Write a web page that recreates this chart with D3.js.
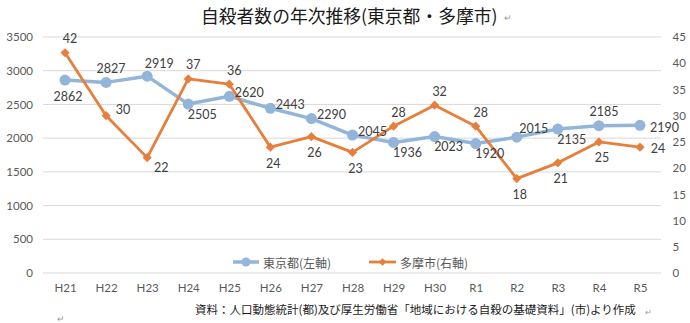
<!DOCTYPE html>
<html><head><meta charset="utf-8">
<script src="https://cdn.jsdelivr.net/npm/d3@7/dist/d3.min.js"></script>
<style>
body{margin:0;background:#fff;}
svg{display:block;}
</style></head>
<body>
<svg id="c" width="690" height="323"></svg>
<script>
const categories = ["H21","H22","H23","H24","H25","H26","H27","H28","H29","H30","R1","R2","R3","R4","R5"];
const tokyo = [2862,2827,2919,2505,2620,2443,2290,2045,1936,2023,1920,2015,2135,2185,2190];
const tama = [42,30,22,37,36,24,26,23,28,32,28,18,21,25,24];
const leftTicks = [0,500,1000,1500,2000,2500,3000,3500];
const rightTicks = [0,5,10,15,20,25,30,35,40,45];
// label placement keywords (style only)
const tokyoLabelPos = ["below","above","aboveR","belowR","right","right","right","right","belowR","belowR","belowR","aboveL","belowR","above","rightFar"];
const tamaLabelPos = ["above","right","belowR","above","above","below","below","below","above","above","above","below","below","below","rightNear"];

const svg = d3.select("#c");
const numFont = "Lato, 'Noto Sans', sans-serif";
const jpFont = "'Noto Sans CJK JP', sans-serif";
const plot = {l:44.5, r:660.5, t:37, b:273};

const x = d3.scalePoint().domain(categories).range([plot.l, plot.r]).padding(0.5);
const yL = d3.scaleLinear().domain([0,3500]).range([plot.b, plot.t]);
const yR = d3.scaleLinear().domain([0,45]).range([plot.b, plot.t]);

// gridlines
svg.append("g").selectAll("line").data(leftTicks).join("line")
  .attr("x1", plot.l-1.5).attr("x2", plot.r+0.5)
  .attr("y1", d=>yL(d)).attr("y2", d=>yL(d))
  .attr("stroke", "#D9D9D9").attr("stroke-width", 1);

// left axis
const la = svg.append("g").attr("transform", `translate(${plot.l},0)`)
  .call(d3.axisLeft(yL).tickValues(leftTicks).tickFormat(d3.format("d")).tickSize(0).tickPadding(11.5));
la.select(".domain").remove();
la.selectAll("text").attr("font-family", numFont).attr("font-size", 11.5).attr("fill", "#595959");

// right axis
const ra = svg.append("g").attr("transform", `translate(${plot.r},0)`)
  .call(d3.axisRight(yR).tickValues(rightTicks).tickFormat(d3.format("d")).tickSize(0).tickPadding(12));
ra.select(".domain").remove();
ra.selectAll("text").attr("font-family", numFont).attr("font-size", 11.5).attr("fill", "#595959");

// x axis labels
const xa = svg.append("g").attr("transform", `translate(0,${plot.b})`)
  .call(d3.axisBottom(x).tickSize(0).tickPadding(11));
xa.select(".domain").remove();
xa.selectAll("text").attr("font-family", numFont).attr("font-size", 11.5).attr("fill", "#595959");

const blue = "#93B5DA", orange = "#E67E3C";

// Tokyo line
svg.append("path").datum(tokyo)
  .attr("d", d3.line().x((d,i)=>x(categories[i])).y(d=>yL(d)))
  .attr("fill","none").attr("stroke", blue).attr("stroke-width", 3.5).attr("stroke-linejoin","round");
svg.append("g").selectAll("circle").data(tokyo).join("circle")
  .attr("cx",(d,i)=>x(categories[i])).attr("cy", d=>yL(d)).attr("r", 5.5).attr("fill", blue);

// Tama line
svg.append("path").datum(tama)
  .attr("d", d3.line().x((d,i)=>x(categories[i])).y(d=>yR(d)))
  .attr("fill","none").attr("stroke", orange).attr("stroke-width", 2.8).attr("stroke-linejoin","round");
svg.append("g").selectAll("path").data(tama).join("path")
  .attr("d", d3.symbol().type(d3.symbolSquare).size(42))
  .attr("transform",(d,i)=>`translate(${x(categories[i])},${yR(d)}) rotate(45)`)
  .attr("fill", orange);

function off(pos){
  switch(pos){
    case "above": return [5,-14];
    case "aboveR": return [12,-13];
    case "aboveL": return [17,-9];
    case "below": return [3,16];
    case "belowR": return [14,10];
    case "right": return [20,-4];
    case "rightFar": return [24.5,2];
    case "rightNear": return [18,1];
    default: return [0,0];
  }
}
const lab = svg.append("g").attr("font-family", numFont).attr("font-size", 12.5).attr("fill","#404040")
  .attr("text-anchor","middle").attr("dominant-baseline","central");
tokyo.forEach((d,i)=>{
  let [dx,dy] = off(tokyoLabelPos[i]);
  if (i===0){dx=3; dy=16;}
  lab.append("text").attr("x", x(categories[i])+dx).attr("y", yL(d)+dy).text(d);
});
tama.forEach((d,i)=>{
  let [dx,dy] = off(tamaLabelPos[i]);
  if (i===1){dx=17; dy=-6;}
  lab.append("text").attr("x", x(categories[i])+dx).attr("y", yR(d)+dy).text(d);
});

// legend
const lg = svg.append("g").attr("font-family", jpFont).attr("font-size", 12).attr("fill","#595959");
lg.append("line").attr("x1",233).attr("x2",259).attr("y1",262).attr("y2",262).attr("stroke",blue).attr("stroke-width",3.5);
lg.append("circle").attr("cx",246).attr("cy",262).attr("r",4.5).attr("fill",blue);
lg.append("text").attr("x",263).attr("y",262).attr("dominant-baseline","central").text("東京都(左軸)");
lg.append("line").attr("x1",369).attr("x2",396).attr("y1",262).attr("y2",262).attr("stroke",orange).attr("stroke-width",2.8);
lg.append("path").attr("d", d3.symbol().type(d3.symbolSquare).size(28)).attr("transform","translate(382.5,262) rotate(45)").attr("fill",orange);
lg.append("text").attr("x",400).attr("y",262).attr("dominant-baseline","central").text("多摩市(右軸)");

// title
svg.append("text").attr("x",201).attr("y",15).attr("dominant-baseline","central")
  .attr("font-family", jpFont).attr("font-size",17.8).attr("fill","#1a1a1a")
  .text("自殺者数の年次推移(東京都・多摩市)");
svg.append("text").attr("x",504).attr("y",17).attr("dominant-baseline","central")
  .attr("font-family", jpFont).attr("font-size",9).attr("fill","#999").text("↵");

// source
svg.append("text").attr("x",195).attr("y",309).attr("dominant-baseline","central")
  .attr("font-family", jpFont).attr("font-size",11.5).attr("fill","#1a1a1a")
  .text("資料：人口動態統計(都)及び厚生労働省「地域における自殺の基礎資料」(市)より作成");
svg.append("text").attr("x",645).attr("y",311).attr("dominant-baseline","central")
  .attr("font-family", jpFont).attr("font-size",8).attr("fill","#999").text("↵");
svg.append("text").attr("x",57).attr("y",318).attr("dominant-baseline","central")
  .attr("font-family", jpFont).attr("font-size",9).attr("fill","#999").text("↵");
</script>
</body></html>
